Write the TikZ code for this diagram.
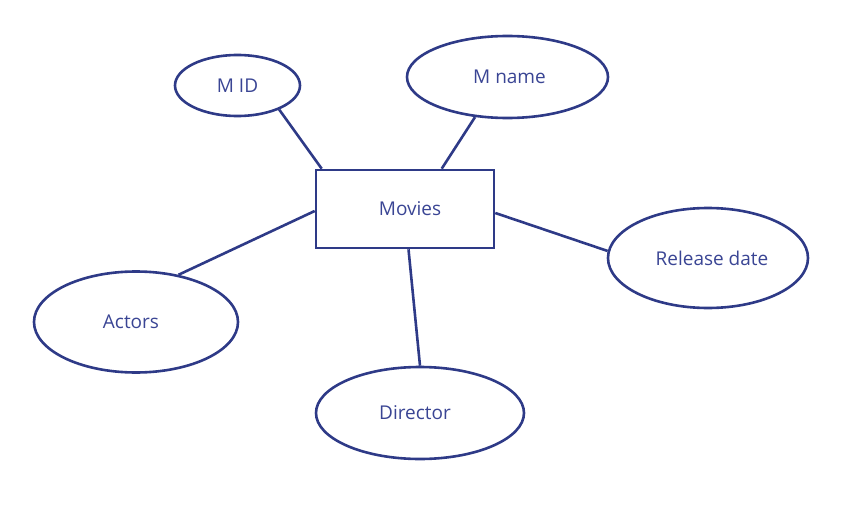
\documentclass[tikz,border=0pt]{standalone}
\usepackage{fontspec}
\setmainfont{Open Sans}
\usetikzlibrary{shapes.geometric,calc}
\definecolor{navy}{HTML}{2E3A87}
\definecolor{navytext}{HTML}{3A4594}
\begin{document}
\begin{tikzpicture}[x=1pt,y=-1pt,
  attr/.style={draw=navy,line width=2.6pt,ellipse,inner sep=0pt,text=navytext,font=\fontsize{19}{22}\selectfont},
  entity/.style={draw=navy,line width=2.6pt,rectangle,inner sep=0pt,minimum width=178pt,minimum height=78pt,text=navytext,font=\fontsize{19}{22}\selectfont},
  link/.style={draw=navy,line width=2.6pt}]
\useasboundingbox (0,0) rectangle (863,530);
\node[entity] (movies) at (405,209) {\hspace{10pt}Movies};
\node[attr,minimum width=125pt,minimum height=61pt] (mid) at (237.5,85.5) {M ID};
\node[attr,minimum width=201pt,minimum height=82pt] (mname) at (507.5,77) {\hspace{4pt}\raisebox{-3pt}{M name}};
\node[attr,minimum width=200pt,minimum height=100pt] (rel) at (708,258) {\hspace{8pt}Release date};
\node[attr,minimum width=204pt,minimum height=101pt] (actors) at (136,322) {\hspace{-10pt}Actors};
\node[attr,minimum width=208pt,minimum height=92pt] (dir) at (420,413) {\hspace{-10pt}Director};
\draw[link] (mid.-30) -- ($(movies.north west)+(7,0)$);
\draw[link] (mname.-129) -- ($(movies.north west)+(127,0)$);
\draw[link] ($(movies.east)+(0,4)$) -- (rel.176);
\draw[link] (actors.48) -- ($(movies.west)+(0,2)$);
\draw[link] ($(movies.south)+(3.5,0)$) -- (dir.north);
\end{tikzpicture}
\end{document}
